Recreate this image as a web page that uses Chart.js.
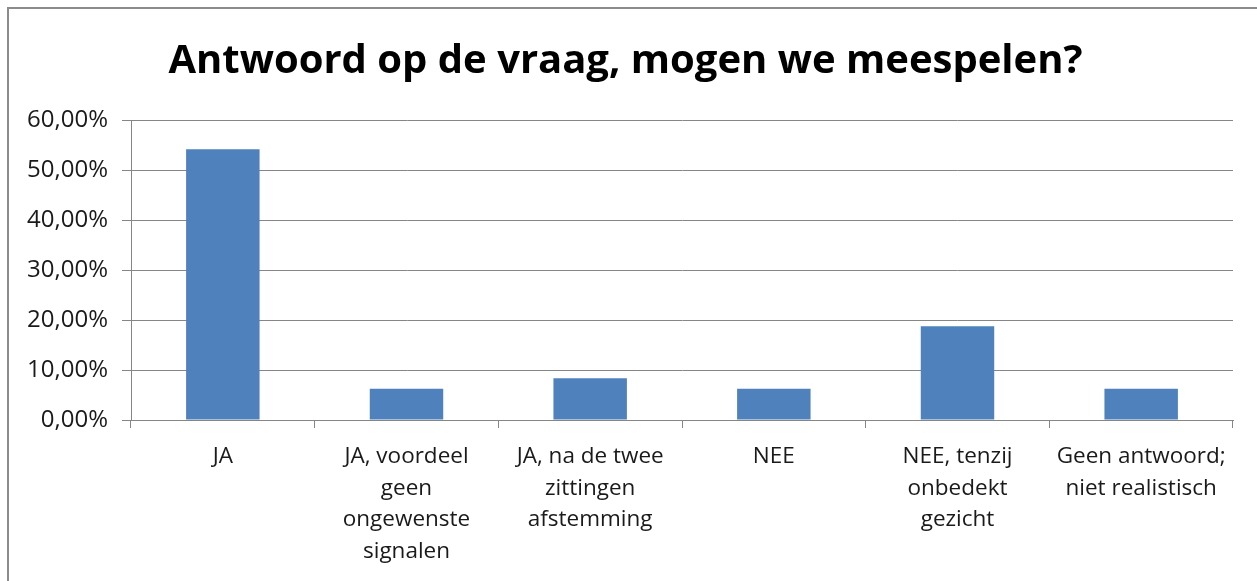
<!DOCTYPE html>
<html>
<head>
<meta charset="utf-8">
<script src="https://cdn.jsdelivr.net/npm/chart.js@4"></script>
<style>
  body { margin: 0; background: #fff; }
  #wrap { position: relative; width: 1257px; height: 581px; overflow: hidden; }
  #frame { position: absolute; left: 7px; top: 7px; width: 1400px; height: 700px; border: 2px solid #8c8c8c; }
  canvas { position: absolute; left: 0; top: 0; }
</style>
</head>
<body>
<div id="wrap">
  <div id="frame"></div>
  <canvas id="myChart" width="1257" height="581"></canvas>
</div>
<script>
const categories = [
  "JA",
  ["JA, voordeel", "geen", "ongewenste", "signalen"],
  ["JA, na de twee", "zittingen", "afstemming"],
  "NEE",
  ["NEE, tenzij", "onbedekt", "gezicht"],
  ["Geen antwoord;", "niet realistisch"]
];
const percentages = [54.17, 6.25, 8.33, 6.25, 18.75, 6.25];
const chartTitle = "Antwoord op de vraag, mogen we meespelen?";

new Chart("myChart", {
  type: "bar",
  data: {
    labels: categories,
    datasets: [
      {
        data: percentages,
        backgroundColor: "#4f81bd",
        categoryPercentage: 1,
        barPercentage: 0.4,
      },
    ],
  },
  options: {
    responsive: false,
    animation: false,
    layout: { padding: { left: 18, right: 24, top: 0, bottom: 0 } },
    plugins: {
      legend: { display: false },
      tooltip: { enabled: false },
      title: {
        display: true,
        text: chartTitle,
        color: "#000",
        font: { family: "Open Sans", size: 40, weight: "bold", lineHeight: "44px" },
        padding: { top: 40, bottom: 36 },
      },
    },
    scales: {
      x: {
        afterFit: (scale) => { scale.height = 161; },
        grid: {
          offset: true,
          drawOnChartArea: false,
          color: "#868686",
          tickLength: 8,
        },
        border: { color: "#868686" },
        ticks: {
          color: "#1a1a1a",
          font: { family: "Open Sans", size: 22.5, lineHeight: "31.5px" },
          padding: 13,
          maxRotation: 0,
          autoSkip: false,
        },
      },
      y: {
        min: 0,
        max: 60,
        afterFit: (scale) => { scale.width = 113; },
        grid: { color: "#868686", tickLength: 9 },
        border: { color: "#868686" },
        ticks: {
          stepSize: 10,
          color: "#1a1a1a",
          font: { family: "Open Sans", size: 24, lineHeight: "26px" },
          padding: 14,
          callback: (v) => v.toFixed(2).replace(".", ",") + "%",
        },
      },
    },
  },
});
</script>
</body>
</html>
